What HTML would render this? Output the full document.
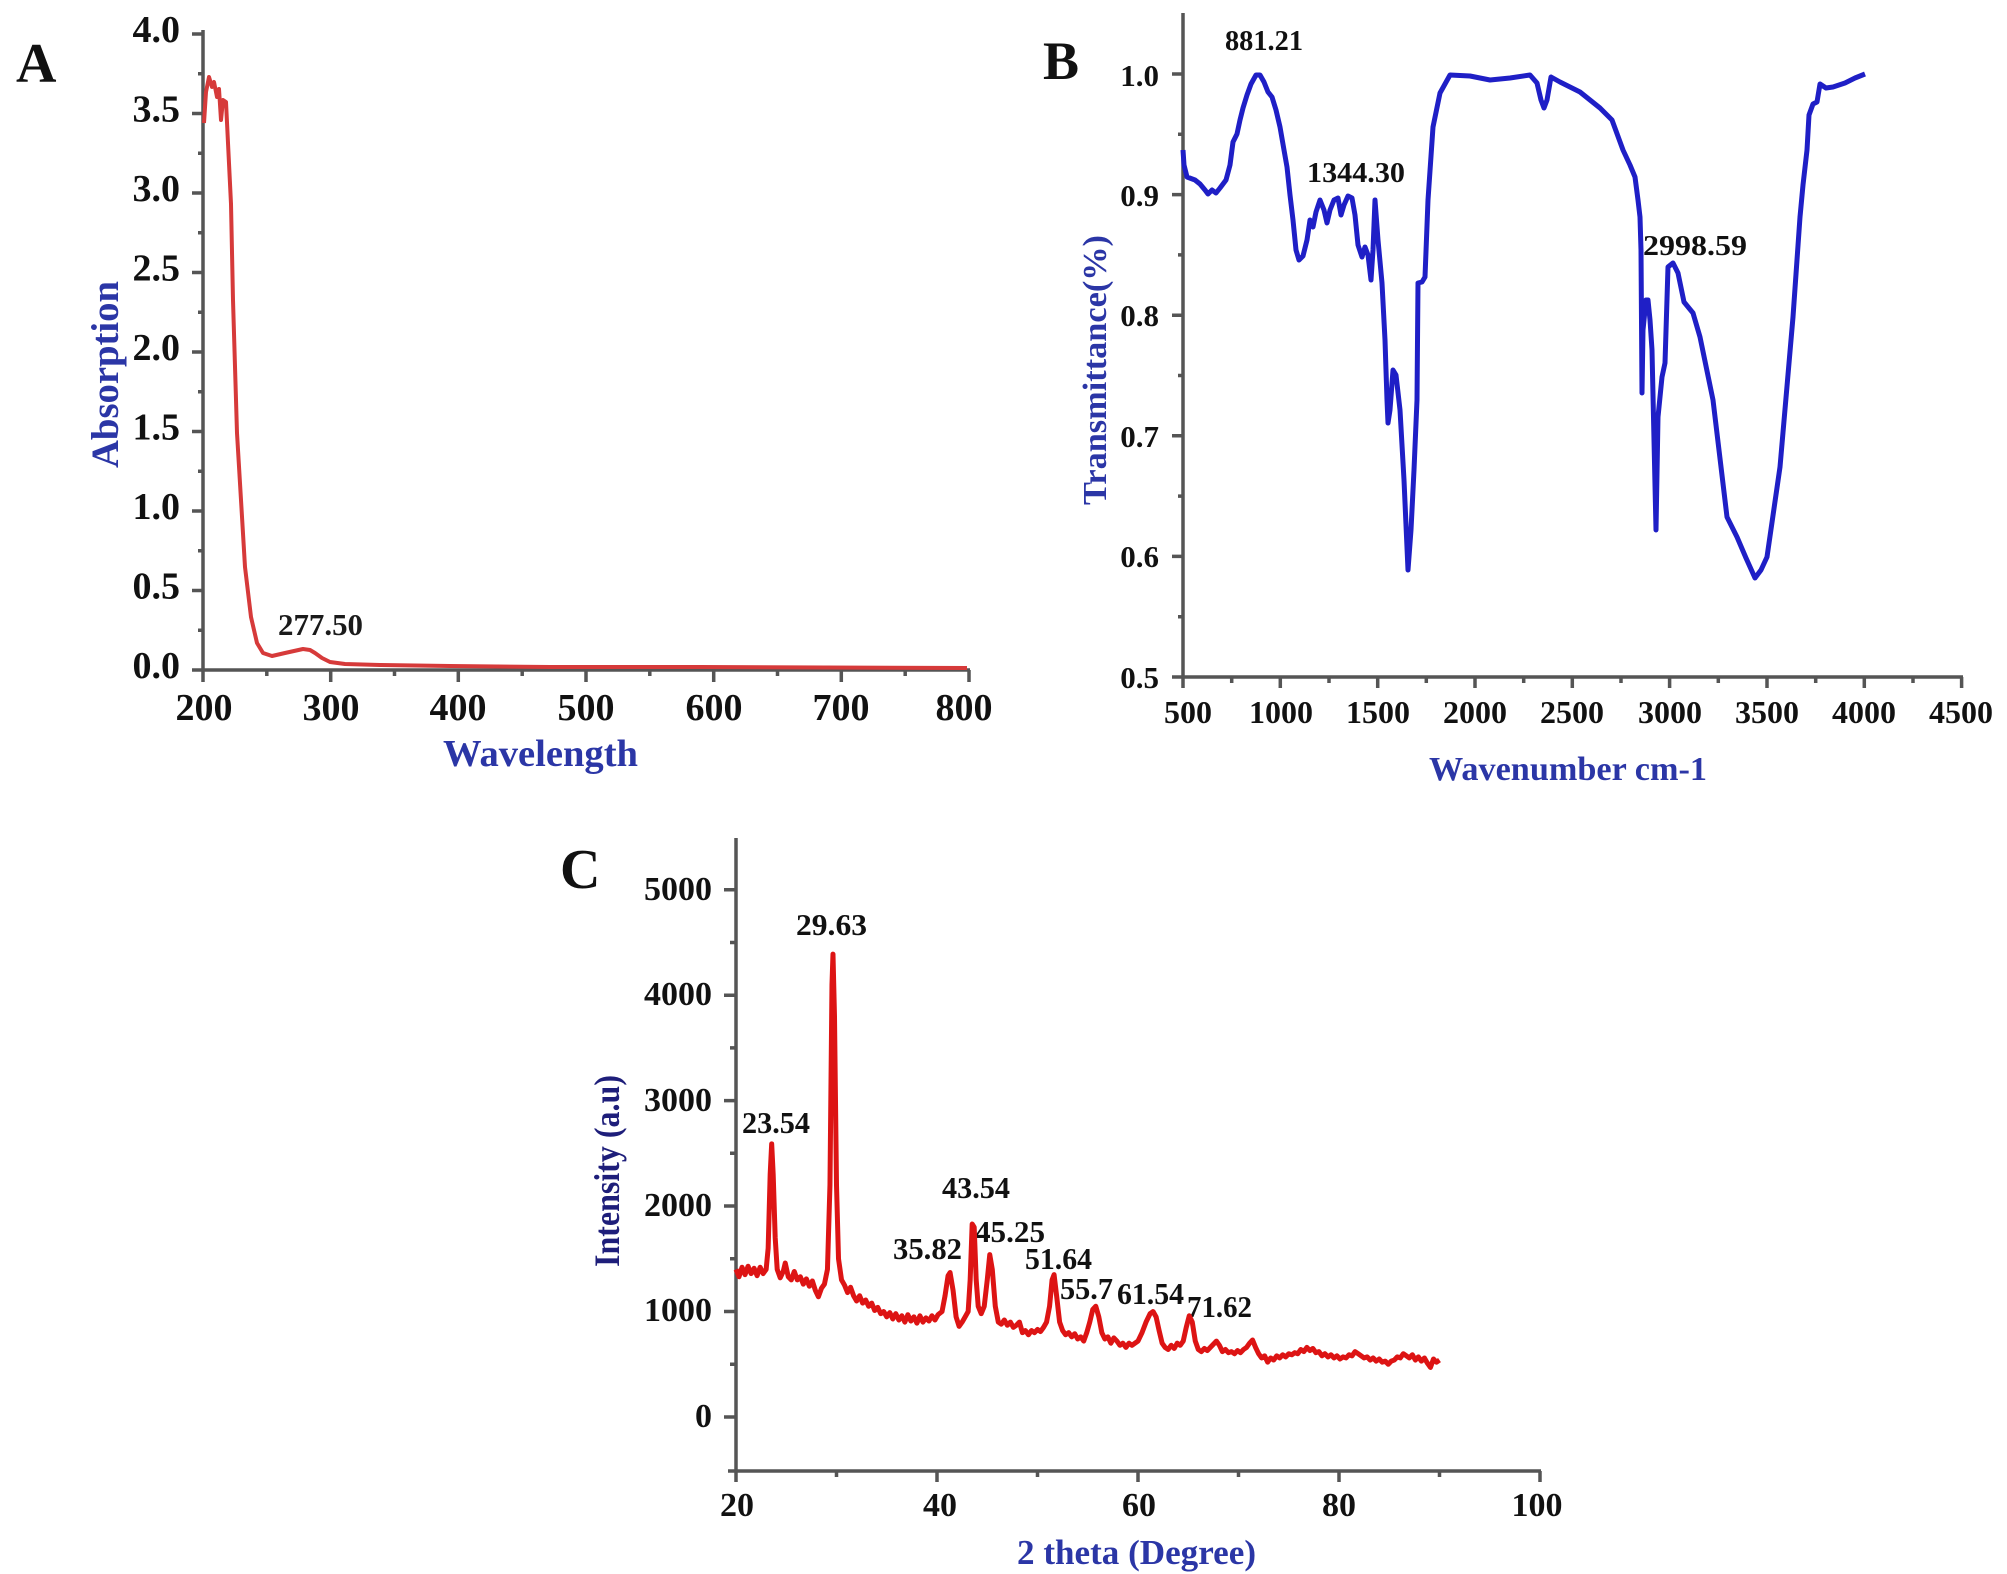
<!DOCTYPE html>
<html><head><meta charset="utf-8"><style>
html,body{margin:0;padding:0;background:#fff;}
svg{display:block;}
text{font-family:"Liberation Serif","Times New Roman",serif;font-weight:bold;}
</style></head><body>
<svg width="2007" height="1574" viewBox="0 0 2007 1574" xmlns="http://www.w3.org/2000/svg">
<rect width="2007" height="1574" fill="#fff"/>

<!-- ================= PANEL A ================= -->
<text x="16" y="82" font-size="56" fill="#111">A</text>
<g stroke="#555" stroke-width="3.5" fill="none">
  <line x1="203" y1="30" x2="203" y2="682"/>
  <line x1="192" y1="670" x2="970" y2="670"/>
  <!-- y major ticks -->
  <path d="M192 34H203M192 113.5H203M192 193H203M192 272.5H203M192 352H203M192 431.5H203M192 511H203M192 590.5H203"/>
  <!-- y minor -->
  <path d="M198 73.75H203M198 153.25H203M198 232.75H203M198 312.25H203M198 391.75H203M198 471.25H203M198 550.75H203M198 630.25H203"/>
  <!-- x major -->
  <path d="M330.7 670V682M458.3 670V682M586 670V682M713.7 670V682M841.3 670V682M969 670V682"/>
  <!-- x minor -->
  <path d="M266.8 670V676M394.5 670V676M522.2 670V676M649.8 670V676M777.5 670V676M905.2 670V676"/>
</g>
<g font-size="38" fill="#111" text-anchor="end">
  <text x="180" y="42">4.0</text>
  <text x="180" y="121.5">3.5</text>
  <text x="180" y="201">3.0</text>
  <text x="180" y="280.5">2.5</text>
  <text x="180" y="360">2.0</text>
  <text x="180" y="439.5">1.5</text>
  <text x="180" y="519">1.0</text>
  <text x="180" y="598.5">0.5</text>
  <text x="180" y="678">0.0</text>
</g>
<g font-size="38" fill="#111" text-anchor="middle">
  <text x="204" y="720">200</text>
  <text x="331" y="720">300</text>
  <text x="458" y="720">400</text>
  <text x="586" y="720">500</text>
  <text x="714" y="720">600</text>
  <text x="841" y="720">700</text>
  <text x="964" y="720">800</text>
</g>
<text transform="translate(118,374.5) rotate(-90)" text-anchor="middle" font-size="39" fill="#2b36a6" textLength="187" lengthAdjust="spacingAndGlyphs">Absorption</text>
<text x="540.5" y="766" text-anchor="middle" font-size="38" fill="#2b36a6" textLength="195" lengthAdjust="spacingAndGlyphs">Wavelength</text>
<text x="278" y="635" font-size="31" fill="#1a1a1a" textLength="85" lengthAdjust="spacingAndGlyphs">277.50</text>
<polyline fill="none" stroke="#d63a3a" stroke-width="4" stroke-linejoin="round" points="204,123 206,92 209,77 212,87 214,82 217,97 219,89 221,120 223,100 226,102 228,143 231,204 233,300 237,433 241,500 245,567 251,617 257,643 263,653 272,656 285,653 303,649 310,650 315,653 322,658 330,662 345,664 380,665 450,666 550,667 700,667 967,668"/>

<!-- ================= PANEL B ================= -->
<text x="1043" y="79" font-size="54" fill="#111">B</text>
<g stroke="#555" stroke-width="3.5" fill="none">
  <line x1="1183" y1="13" x2="1183" y2="688"/>
  <line x1="1172" y1="677" x2="1963" y2="677"/>
  <path d="M1172 74H1183M1172 194.6H1183M1172 315.2H1183M1172 435.8H1183M1172 556.4H1183"/>
  <path d="M1178 134.3H1183M1178 254.9H1183M1178 375.5H1183M1178 496.1H1183M1178 616.7H1183"/>
  <path d="M1280.3 677V688M1377.7 677V688M1475 677V688M1572.3 677V688M1669.6 677V688M1767 677V688M1864.3 677V688M1961.6 677V688"/>
  <path d="M1231.7 677V683M1329 677V683M1426.3 677V683M1523.7 677V683M1621 677V683M1718.3 677V683M1815.7 677V683M1913 677V683"/>
</g>
<g font-size="31" fill="#111" text-anchor="end">
  <text x="1159" y="86">1.0</text>
  <text x="1159" y="206">0.9</text>
  <text x="1159" y="326">0.8</text>
  <text x="1159" y="447">0.7</text>
  <text x="1159" y="567">0.6</text>
  <text x="1159" y="688">0.5</text>
</g>
<g font-size="32" fill="#111" text-anchor="middle">
  <text x="1188" y="723">500</text>
  <text x="1281" y="723">1000</text>
  <text x="1378" y="723">1500</text>
  <text x="1475" y="723">2000</text>
  <text x="1572" y="723">2500</text>
  <text x="1670" y="723">3000</text>
  <text x="1767" y="723">3500</text>
  <text x="1864" y="723">4000</text>
  <text x="1961" y="723">4500</text>
</g>
<text transform="translate(1106,370) rotate(-90)" text-anchor="middle" font-size="34" fill="#2b36a6" textLength="270" lengthAdjust="spacingAndGlyphs">Transmittance(%)</text>
<text x="1568" y="780" text-anchor="middle" font-size="34" fill="#2b36a6" textLength="278" lengthAdjust="spacingAndGlyphs">Wavenumber cm-1</text>
<g font-size="29" fill="#111">
  <text x="1225" y="50" textLength="78" lengthAdjust="spacingAndGlyphs">881.21</text>
  <text x="1307" y="182" textLength="98" lengthAdjust="spacingAndGlyphs">1344.30</text>
  <text x="1643" y="255" textLength="104" lengthAdjust="spacingAndGlyphs">2998.59</text>
</g>
<polyline fill="none" stroke="#1f1fc6" stroke-width="5" stroke-linejoin="round" points="1183,150 1184,165 1187,177 1195,180 1200,184 1205,190 1208,194 1212,190 1216,193 1220,188 1226,180 1230,165 1233,142 1237,134 1240,120 1243,108 1247,95 1251,84 1256,75 1260,75 1264,82 1268,92 1272,97 1276,110 1280,127 1284,150 1287,167 1290,195 1293,220 1296,250 1299,260 1303,256 1307,240 1310,220 1313,227 1316,212 1320,200 1324,210 1327,223 1330,210 1334,200 1338,198 1341,215 1344,205 1348,196 1352,198 1355,215 1358,245 1362,257 1365,247 1368,255 1371,280 1373,250 1375,200 1378,240 1382,283 1385,340 1387,400 1388,423 1390,410 1393,370 1396,375 1400,410 1404,480 1408,570 1411,530 1414,470 1417,400 1418,283 1422,282 1425,277 1428,200 1433,127 1440,93 1450,75 1470,76 1490,80 1510,78 1530,75 1537,83 1541,100 1544,108 1547,100 1551,77 1560,82 1580,92 1600,108 1612,120 1623,150 1630,165 1635,177 1638,200 1640,217 1641,250 1642,393 1643,330 1646,300 1648,300 1650,320 1652,350 1654,440 1656,530 1658,417 1662,377 1665,363 1668,267 1673,263 1678,273 1684,302 1693,313 1700,337 1713,400 1727,517 1737,537 1746,558 1755,578 1761,570 1767,557 1780,467 1793,317 1800,217 1803,185 1807,150 1809,115 1813,104 1817,102 1820,84 1826,88 1833,87 1845,83 1855,78 1865,74"/>

<!-- ================= PANEL C ================= -->
<text x="560" y="888" font-size="56" fill="#111">C</text>
<g stroke="#555" stroke-width="3.5" fill="none">
  <line x1="736" y1="838" x2="736" y2="1482"/>
  <line x1="728" y1="1471" x2="1541" y2="1471"/>
  <path d="M724 889.8H736M724 995.2H736M724 1100.6H736M724 1206H736M724 1311.5H736M724 1417H736"/>
  <path d="M730 942.5H736M730 1047.9H736M730 1153.3H736M730 1258.7H736M730 1364.2H736"/>
  <path d="M937 1471V1482M1138 1471V1482M1339 1471V1482M1540 1471V1482"/>
  <path d="M836.5 1471V1477M1037.5 1471V1477M1238.5 1471V1477M1439.5 1471V1477"/>
</g>
<g font-size="34" fill="#111" text-anchor="end">
  <text x="712" y="900">5000</text>
  <text x="712" y="1005">4000</text>
  <text x="712" y="1111">3000</text>
  <text x="712" y="1216">2000</text>
  <text x="712" y="1321">1000</text>
  <text x="712" y="1427">0</text>
</g>
<g font-size="34" fill="#111" text-anchor="middle">
  <text x="737" y="1516">20</text>
  <text x="940" y="1516">40</text>
  <text x="1139" y="1516">60</text>
  <text x="1339" y="1516">80</text>
  <text x="1537" y="1516">100</text>
</g>
<text transform="translate(619,1171) rotate(-90)" text-anchor="middle" font-size="36" fill="#1e1e7a" textLength="192" lengthAdjust="spacingAndGlyphs">Intensity (a.u)</text>
<text x="1136.5" y="1564" text-anchor="middle" font-size="35" fill="#2b36a6" textLength="239" lengthAdjust="spacingAndGlyphs">2 theta (Degree)</text>
<g font-size="31" fill="#111">
  <text x="796" y="935" textLength="71" lengthAdjust="spacingAndGlyphs">29.63</text>
  <text x="742" y="1133" textLength="68" lengthAdjust="spacingAndGlyphs">23.54</text>
  <text x="942" y="1198" textLength="68" lengthAdjust="spacingAndGlyphs">43.54</text>
  <text x="893" y="1259" textLength="69" lengthAdjust="spacingAndGlyphs">35.82</text>
  <text x="975" y="1242" textLength="70" lengthAdjust="spacingAndGlyphs">45.25</text>
  <text x="1025" y="1269" textLength="67" lengthAdjust="spacingAndGlyphs">51.64</text>
  <text x="1060" y="1299" textLength="53" lengthAdjust="spacingAndGlyphs">55.7</text>
  <text x="1117" y="1304" textLength="67" lengthAdjust="spacingAndGlyphs">61.54</text>
  <text x="1187" y="1317" textLength="65" lengthAdjust="spacingAndGlyphs">71.62</text>
</g>
<polyline fill="none" stroke="#dd1414" stroke-width="5" stroke-linejoin="round" vector-effect="non-scaling-stroke" transform="matrix(10.05,0,0,-0.10545,535,1417)" points="20.0,1400 20.3,1330 20.6,1420 20.9,1350 21.2,1430 21.5,1360 21.8,1410 22.1,1340 22.4,1420 22.7,1360 23.0,1400 23.2,1600 23.4,2300 23.55,2590 23.7,2300 23.9,1700 24.1,1400 24.4,1320 24.7,1380 24.9,1460 25.2,1330 25.5,1300 25.8,1380 26.1,1300 26.4,1330 26.7,1260 27.0,1310 27.3,1240 27.6,1290 27.9,1200 28.2,1140 28.5,1220 28.8,1260 29.1,1400 29.35,2200 29.55,4100 29.65,4390 29.8,3800 30.0,2200 30.2,1500 30.5,1300 30.8,1250 31.1,1180 31.4,1230 31.7,1150 32.0,1100 32.3,1150 32.6,1080 32.9,1110 33.2,1050 33.5,1080 33.8,1010 34.1,1040 34.4,980 34.7,1000 35.0,950 35.3,990 35.6,930 35.9,980 36.2,920 36.5,960 36.8,900 37.1,970 37.4,910 37.7,950 38.0,890 38.3,960 38.6,900 38.9,940 39.2,910 39.5,960 39.8,920 40.1,970 40.5,1000 40.8,1150 41.1,1340 41.3,1370 41.6,1200 41.9,950 42.2,860 42.5,900 42.8,950 43.1,1000 43.3,1300 43.5,1830 43.7,1800 43.9,1300 44.1,1050 44.4,980 44.7,1050 45.0,1300 45.25,1540 45.5,1400 45.8,1050 46.1,900 46.4,880 46.7,920 47.0,870 47.3,900 47.6,850 47.9,870 48.2,900 48.5,800 48.8,820 49.1,780 49.4,820 49.7,800 50.0,830 50.3,810 50.6,850 50.9,900 51.2,1050 51.45,1300 51.65,1350 51.9,1150 52.2,900 52.5,820 52.8,780 53.1,800 53.4,760 53.7,790 54.0,740 54.3,760 54.6,720 54.9,800 55.2,900 55.5,1020 55.8,1050 56.1,950 56.4,800 56.7,740 57.0,760 57.3,700 57.6,750 57.9,720 58.2,680 58.5,700 58.8,660 59.1,700 59.4,680 59.7,700 60.0,720 60.4,800 60.8,900 61.2,980 61.5,1000 61.8,950 62.1,820 62.4,700 62.7,660 63.0,640 63.3,680 63.6,650 63.9,700 64.2,680 64.5,720 64.8,850 65.1,960 65.4,900 65.7,720 66.0,640 66.3,620 66.6,650 66.9,630 67.2,660 67.5,690 67.8,720 68.1,680 68.4,620 68.7,640 69.0,610 69.3,620 69.6,600 69.9,630 70.2,610 70.5,640 70.8,660 71.1,700 71.4,730 71.7,660 72.0,600 72.3,560 72.6,580 72.9,520 73.2,560 73.5,540 73.8,580 74.1,560 74.4,590 74.7,570 75.0,600 75.3,590 75.6,610 75.9,600 76.2,640 76.5,620 76.8,660 77.1,630 77.4,650 77.7,610 78.0,620 78.3,580 78.6,600 78.9,570 79.2,590 79.5,560 79.8,580 80.1,550 80.4,570 80.7,560 81.0,590 81.3,580 81.6,620 81.9,600 82.2,580 82.5,560 82.8,570 83.1,540 83.4,560 83.7,530 84.0,550 84.3,520 84.6,530 84.9,500 85.2,530 85.5,540 85.8,570 86.1,560 86.4,600 86.7,580 87.0,560 87.3,590 87.6,540 87.9,570 88.2,530 88.5,560 88.8,510 89.1,470 89.4,550 89.7,520 90.0,540"/>
</svg>
</body></html>
